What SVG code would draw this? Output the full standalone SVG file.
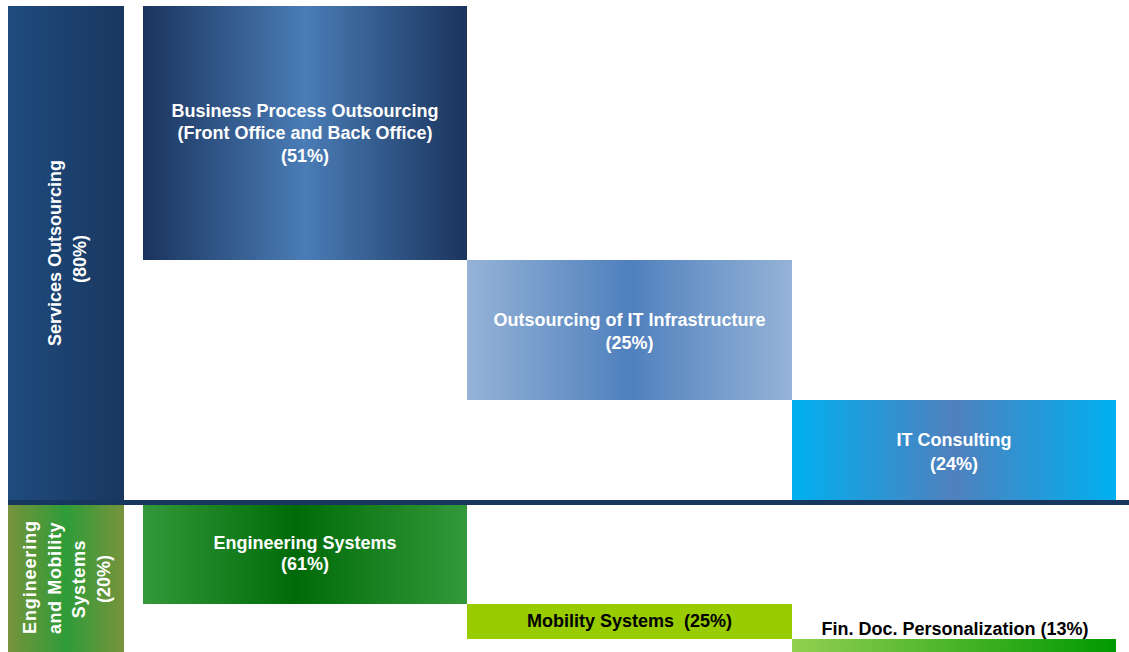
<svg xmlns="http://www.w3.org/2000/svg" width="1129" height="652" viewBox="0 0 1129 652">
  <style>
    text { font-family: "Liberation Sans", Arial, sans-serif; font-weight: bold; font-size: 18px; text-anchor: middle; }
    .w { fill: #ffffff; }
    .k { fill: #000000; white-space: pre; }
    .sp { letter-spacing: 0.6px; }
  </style>
  <defs>
    <linearGradient id="gNavy" x1="0" y1="0" x2="1" y2="0">
      <stop offset="0" stop-color="#1f4b7e"/>
      <stop offset="1" stop-color="#19375f"/>
    </linearGradient>
    <linearGradient id="gBpo" x1="0" y1="0" x2="1" y2="0">
      <stop offset="0" stop-color="#1a345d"/>
      <stop offset="0.5" stop-color="#4a7cb6"/>
      <stop offset="1" stop-color="#1a345d"/>
    </linearGradient>
    <linearGradient id="gInfra" x1="0" y1="0" x2="1" y2="0">
      <stop offset="0" stop-color="#95b3d7"/>
      <stop offset="0.5" stop-color="#4f80bd"/>
      <stop offset="1" stop-color="#95b3d7"/>
    </linearGradient>
    <linearGradient id="gConsult" x1="0" y1="0" x2="1" y2="0">
      <stop offset="0" stop-color="#00b0f0"/>
      <stop offset="0.5" stop-color="#4f80bd"/>
      <stop offset="1" stop-color="#00b0f0"/>
    </linearGradient>
    <linearGradient id="gOlive" x1="0" y1="0" x2="1" y2="0">
      <stop offset="0" stop-color="#77933c"/>
      <stop offset="0.5" stop-color="#2e9c38"/>
      <stop offset="1" stop-color="#77933c"/>
    </linearGradient>
    <linearGradient id="gEng" x1="0" y1="0" x2="1" y2="0">
      <stop offset="0" stop-color="#33993a"/>
      <stop offset="0.47" stop-color="#006a08"/>
      <stop offset="1" stop-color="#33993a"/>
    </linearGradient>
    <linearGradient id="gFin" x1="0" y1="0" x2="1" y2="0">
      <stop offset="0" stop-color="#92d050"/>
      <stop offset="1" stop-color="#009900"/>
    </linearGradient>
  </defs>

  <!-- segment labels (vertical) -->
  <g id="services-outsourcing">
    <rect x="8" y="6" width="116" height="499" fill="url(#gNavy)"/>
    <text class="w" transform="translate(61,253) rotate(-90)">Services Outsourcing</text>
    <text class="w" transform="translate(86,259) rotate(-90)">(80%)</text>
  </g>

  <g id="engineering-mobility">
    <rect x="8" y="505" width="116" height="147" fill="url(#gOlive)"/>
    <text class="w" style="letter-spacing:0.9px" transform="translate(36,577) rotate(-90)">Engineering</text>
    <text class="w sp" transform="translate(60.5,578) rotate(-90)">and Mobility</text>
    <text class="w sp" transform="translate(85,579) rotate(-90)">Systems</text>
    <text class="w" transform="translate(109.5,579) rotate(-90)">(20%)</text>
  </g>

  <!-- services outsourcing breakdown -->
  <g id="bpo">
    <rect x="143" y="6" width="324" height="254" fill="url(#gBpo)"/>
    <text class="w" x="305" y="117">Business Process Outsourcing</text>
    <text class="w" x="305" y="139">(Front Office and Back Office)</text>
    <text class="w" x="305" y="162">(51%)</text>
  </g>

  <g id="it-infrastructure">
    <rect x="467" y="260" width="325" height="140" fill="url(#gInfra)"/>
    <text class="w" x="629.5" y="326">Outsourcing of IT Infrastructure</text>
    <text class="w" x="629.5" y="349">(25%)</text>
  </g>

  <g id="it-consulting">
    <rect x="792" y="400" width="324" height="100" fill="url(#gConsult)"/>
    <text class="w" x="954" y="446">IT Consulting</text>
    <text class="w" x="954" y="470">(24%)</text>
  </g>

  <!-- engineering and mobility breakdown -->
  <g id="engineering-systems">
    <rect x="143" y="505" width="324" height="99" fill="url(#gEng)"/>
    <text class="w" x="305" y="549">Engineering Systems</text>
    <text class="w" x="305" y="570">(61%)</text>
  </g>

  <g id="mobility-systems">
    <rect x="467" y="604" width="325" height="35" fill="#99cc00"/>
    <text class="k" x="629.5" y="627">Mobility Systems  (25%)</text>
  </g>

  <g id="fin-doc-personalization">
    <rect x="792" y="639" width="324" height="13" fill="url(#gFin)"/>
    <text class="k" x="955" y="635">Fin. Doc. Personalization (13%)</text>
  </g>

  <!-- divider between the two segments -->
  <g id="connectors">
    <rect x="8" y="500" width="1121" height="5" fill="#17375e"/>
  </g>
</svg>
